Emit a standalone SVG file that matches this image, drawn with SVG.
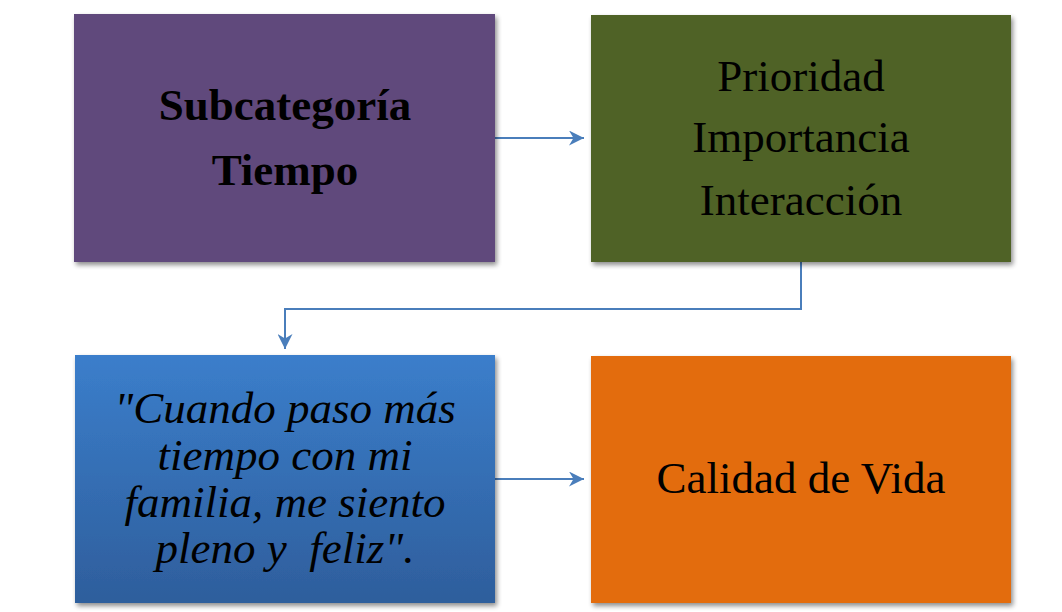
<svg xmlns="http://www.w3.org/2000/svg" width="1062" height="612" viewBox="0 0 1062 612">
<style>
.t{font-family:"Liberation Serif","Times New Roman",serif;font-size:45px;fill:#000;text-anchor:middle}
.b{font-weight:bold}
.i{font-style:italic}
.c{fill:none;stroke:#4A7EBB;stroke-width:2}
</style>
<defs>
<filter id="sh" x="-10%" y="-10%" width="125%" height="125%">
<feGaussianBlur in="SourceAlpha" stdDeviation="2.5"/>
<feOffset dx="2" dy="3" result="o"/>
<feComponentTransfer><feFuncA type="linear" slope="0.45"/></feComponentTransfer>
<feMerge><feMergeNode/><feMergeNode in="SourceGraphic"/></feMerge>
</filter>
<linearGradient id="bg" x1="0" y1="0" x2="0" y2="1">
<stop offset="0" stop-color="#3B7ECB"/>
<stop offset="1" stop-color="#2E5E9C"/>
</linearGradient>
<marker id="ah" viewBox="0 0 10 10" refX="10" refY="5" markerWidth="7.5" markerHeight="7.5" orient="auto" markerUnits="strokeWidth">
<path d="M0,0 L10,5 L0,10 L3,5 Z" fill="#4A7EBB"/>
</marker>
</defs>
<rect width="1062" height="612" fill="#fff"/>
<g id="connectors">
<path class="c" d="M495,138 H584" marker-end="url(#ah)"/>
<path class="c" d="M801,262 V309 H285 V349" marker-end="url(#ah)"/>
<path class="c" d="M495,479 H584" marker-end="url(#ah)"/>
</g>
<g id="n1">
<rect x="74" y="14" width="421" height="248" fill="#604A7B" filter="url(#sh)"/>
<text class="t b" x="285" y="120">Subcategoría</text>
<text class="t b" x="285" y="185">Tiempo</text>
</g>
<g id="n2">
<rect x="591" y="15" width="420" height="247" fill="#4F6228" filter="url(#sh)"/>
<text class="t" x="801" y="91">Prioridad</text>
<text class="t" x="801" y="152">Importancia</text>
<text class="t" x="801" y="215">Interacción</text>
</g>
<g id="n3">
<rect x="75" y="355" width="420" height="248" fill="url(#bg)" filter="url(#sh)"/>
<text class="t i" x="285" y="423">"Cuando paso más</text>
<text class="t i" x="285" y="470">tiempo con mi</text>
<text class="t i" x="285" y="517">familia, me siento</text>
<text class="t i" x="285" y="563" xml:space="preserve">pleno y  feliz".</text>
</g>
<g id="n4">
<rect x="591" y="356" width="420" height="247" fill="#E36C09" filter="url(#sh)"/>
<text class="t" x="801" y="493">Calidad de Vida</text>
</g>
</svg>
